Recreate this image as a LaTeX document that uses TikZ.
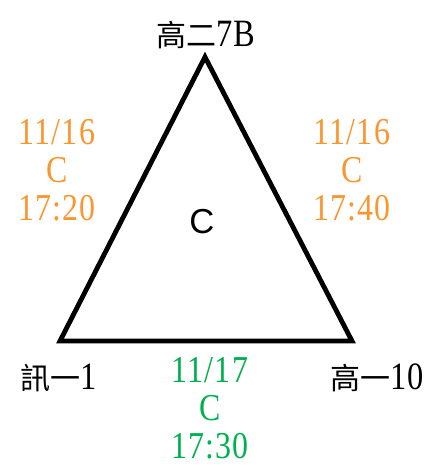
\documentclass[tikz,border=0pt]{standalone}
\usepackage{fontspec}
\setmainfont{Liberation Serif}
\newfontfamily\narrowserif[FakeStretch=0.84,LetterSpace=3]{Liberation Serif}
\newfontfamily\cjk{Noto Sans CJK TC}
\newfontfamily\plainsans{Liberation Sans}
\definecolor{dateorange}{RGB}{250,150,50}
\definecolor{dategreen}{RGB}{0,176,80}

\begin{document}
\begin{tikzpicture}[
  x=0.75pt, y=-0.75pt,
  corner/.style={font=\narrowserif\fontsize{29}{30}\selectfont, inner sep=0pt},
  match/.style={font=\narrowserif\fontsize{28.5}{28.3}\selectfont, align=center, inner sep=0pt},
  edge/.style={line width=3.6pt, line join=miter},
]
  \useasboundingbox (0,0) rectangle (434,466);

  % ----- Triangle -----
  \coordinate (top)   at (205,57);
  \coordinate (left)  at (60,341);
  \coordinate (right) at (352,341);
  \draw[edge] (top) -- (right) -- (left) -- cycle;

  \node[font=\plainsans\fontsize{26}{28}\selectfont] (grp) at (202,222) {C};

  % ----- Teams at the corners -----
  \node[corner] (tTop)   at (206,35)  {{\cjk\fontsize{22.5}{24}\selectfont 高二}7B};
  \node[corner] (tLeft)  at (59,378)  {{\cjk\fontsize{22.5}{24}\selectfont 訊一}1};
  \node[corner] (tRight) at (377,378) {{\cjk\fontsize{22.5}{24}\selectfont 高一}10};

  % ----- Games on the sides -----
  \node[match, text=dateorange] (gLeft)   at (57,170)  {11/16\\C\\17:20};
  \node[match, text=dateorange] (gRight)  at (352,170) {11/16\\C\\17:40};
  \node[match, text=dategreen]  (gBottom) at (210,408) {11/17\\C\\17:30};
\end{tikzpicture}
\end{document}
